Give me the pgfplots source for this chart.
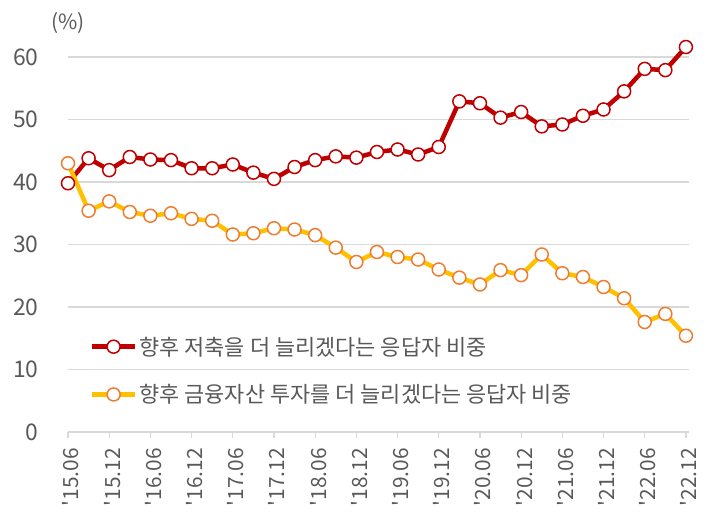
\documentclass[border=0pt]{standalone}
\usepackage{fontspec}
\setmainfont{Noto Sans CJK KR}
\usepackage{pgfplots}
\pgfplotsset{compat=1.18}
\definecolor{redl}{HTML}{C00000}
\definecolor{gold}{HTML}{FFC000}
\definecolor{orng}{HTML}{ED7D31}
\definecolor{txt}{HTML}{595959}
\definecolor{grd}{HTML}{D9D9D9}
\begin{document}
\begin{tikzpicture}
\begin{axis}[name=ax, scale only axis, width=621bp, height=375bp,
 xmin=0, xmax=30.15, ymin=0, ymax=60, clip=false,
 axis x line*=bottom, axis y line*=left,
 x axis line style={draw=grd, line width=1.2bp, -},
 y axis line style={draw=none},
 ytick={0,10,...,60}, ymajorgrids, grid style={draw=grd, line width=1.2bp},
 ytick style={draw=none},
 xtick={0,2,...,30},
 xticklabels={\textquotesingle15.06,\textquotesingle15.12,\textquotesingle16.06,\textquotesingle16.12,\textquotesingle17.06,\textquotesingle17.12,\textquotesingle18.06,\textquotesingle18.12,\textquotesingle19.06,\textquotesingle19.12,\textquotesingle20.06,\textquotesingle20.12,\textquotesingle21.06,\textquotesingle21.12,\textquotesingle22.06,\textquotesingle22.12},
 x tick style={draw=grd, line width=1.2bp}, tick align=outside, major tick length=6bp,
 xticklabel style={yshift=-9bp, xshift=3bp, rotate=90, anchor=east, inner sep=1bp, font=\fontsize{21}{24}\selectfont, text=txt},
 yticklabel style={font=\fontsize{23}{24}\selectfont, text=txt, xshift=-20bp},
 /pgf/number format/assume math mode=true,
 legend style={at={(rel axis cs:0.03,0.265)}, anchor=north west, draw=none, fill=none, font=\fontsize{22}{24}\selectfont, text=txt, row sep=24bp},
 legend cell align=left,
 legend image code/.code={\draw[#1, mark repeat=2, mark phase=2] plot coordinates {(0cm,0cm) (0.76cm,0cm) (1.52cm,0cm)};},
]
\coordinate (O) at (rel axis cs:0,0);
\addplot[redl, line width=4.5bp, mark=*, mark size=6.5bp, mark options={fill=white, draw=redl, line width=1.5bp}] coordinates {
(0,39.8)(1,43.8)(2,41.9)(3,44.0)(4,43.6)(5,43.5)(6,42.2)(7,42.2)(8,42.8)(9,41.5)
(10,40.5)(11,42.4)(12,43.5)(13,44.1)(14,43.9)(15,44.8)(16,45.2)(17,44.4)(18,45.6)(19,52.9)
(20,52.6)(21,50.3)(22,51.2)(23,48.9)(24,49.2)(25,50.6)(26,51.6)(27,54.5)(28,58.1)(29,57.9)(30,61.6)};
\addlegendentry{향후 저축을 더 늘리겠다는 응답자 비중}
\addplot[gold, line width=4.5bp, mark=*, mark size=6.5bp, mark options={fill=white, draw=orng, line width=1.5bp}] coordinates {
(0,43.0)(1,35.4)(2,36.9)(3,35.2)(4,34.6)(5,35.0)(6,34.1)(7,33.8)(8,31.6)(9,31.8)
(10,32.6)(11,32.4)(12,31.5)(13,29.5)(14,27.2)(15,28.8)(16,28.0)(17,27.6)(18,26.0)(19,24.7)
(20,23.6)(21,25.9)(22,25.1)(23,28.4)(24,25.4)(25,24.8)(26,23.2)(27,21.4)(28,17.6)(29,18.9)(30,15.4)};
\addlegendentry{향후 금융자산 투자를 더 늘리겠다는 응답자 비중}
\node[text=txt, font=\fontsize{21}{24}\selectfont] at (rel axis cs:0,1) [yshift=34bp] {(\%)};
\end{axis}
\pgfresetboundingbox
\path (O) ++(-68bp,-91bp) rectangle ++(708bp,523bp);
\end{tikzpicture}
\end{document}
